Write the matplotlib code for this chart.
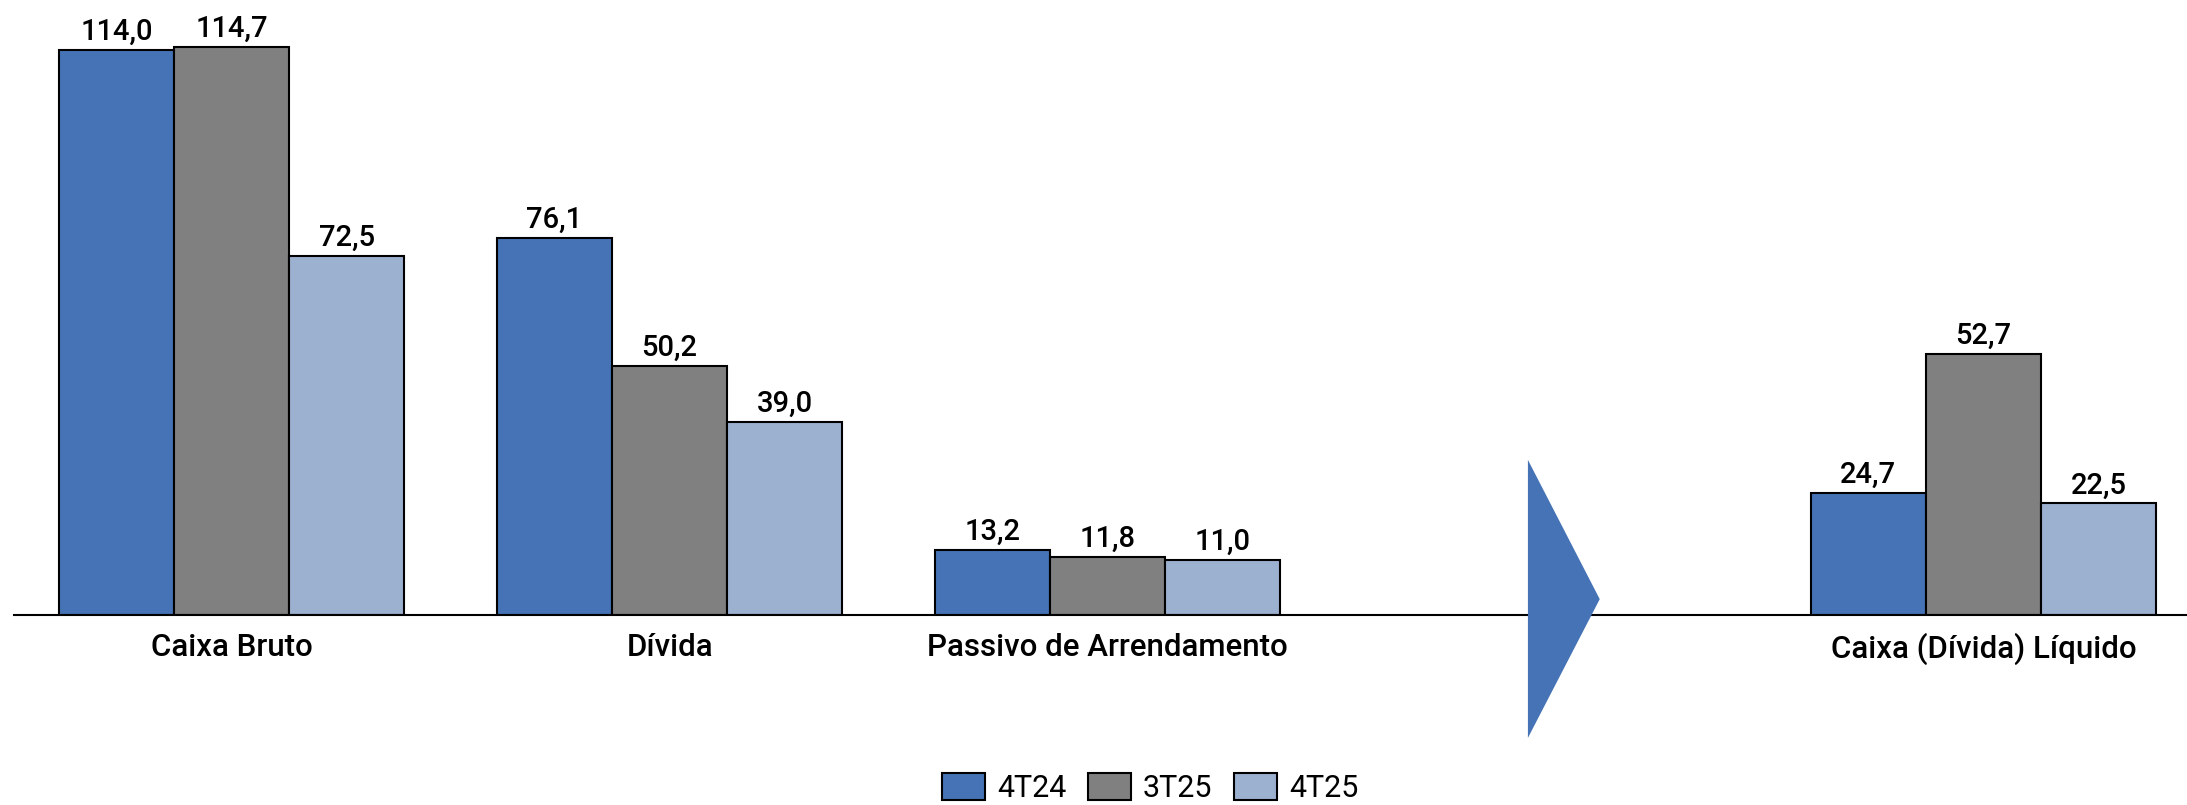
import numpy as np
import matplotlib
matplotlib.use("Agg")
import matplotlib.pyplot as plt

# data
categories = ["Caixa Bruto", "Dívida", "Passivo de Arrendamento", "Caixa (Dívida) Líquido"]
cat_pos = [0, 1, 2, 4]   # slot 3 is kept free for the arrow
series = ["4T24", "3T25", "4T25"]
v_4t24 = [114.0, 76.1, 13.2, 24.7]
v_3t25 = [114.7, 50.2, 11.8, 52.7]
v_4t25 = [72.5, 39.0, 11.0, 22.5]
colors = ["#4573B6", "#808080", "#9CB0CF"]

plt.rcParams['font.family'] = ['Roboto', 'DejaVu Sans']

fig = plt.figure(figsize=(21.87, 8.05), dpi=100)
ax = fig.add_axes([14/2187, 190/805, 1 - 14/2187, 615/805])

w = 0.263
x = np.array(cat_pos, dtype=float)
for i, (name, vals) in enumerate(zip(series, [v_4t24, v_3t25, v_4t25])):
    bars = ax.bar(x + (i - 1) * w, vals, width=w, color=colors[i],
                  edgecolor="black", linewidth=1.5, label=name)
    ax.bar_label(bars, labels=[f"{v:.1f}".replace(".", ",") for v in vals],
                 padding=3, fontsize=21, fontweight="medium")

# arrow between the groups
ax.fill([2.960, 3.124, 2.960], [31.3, 3.2, -24.8], color=colors[0],
        linewidth=0, clip_on=False, zorder=3)

ax.set_xlim(-0.497, 4.465)
ax.set_ylim(0, 124.1)
ax.set_xticks(cat_pos, categories, fontsize=22.5, fontweight="medium")
ax.tick_params(axis="x", length=0, pad=13)
ax.set_yticks([])
for s in ["left", "right", "top"]:
    ax.spines[s].set_visible(False)
ax.spines["bottom"].set_linewidth(1.5)

fig.legend(loc="center", bbox_to_anchor=(0.526, 0.021), ncol=3, frameon=False,
           fontsize=22, handlelength=1.4, handleheight=1.0,
           handletextpad=0.4, columnspacing=0.7)

fig.savefig("out.png", dpi=100)
